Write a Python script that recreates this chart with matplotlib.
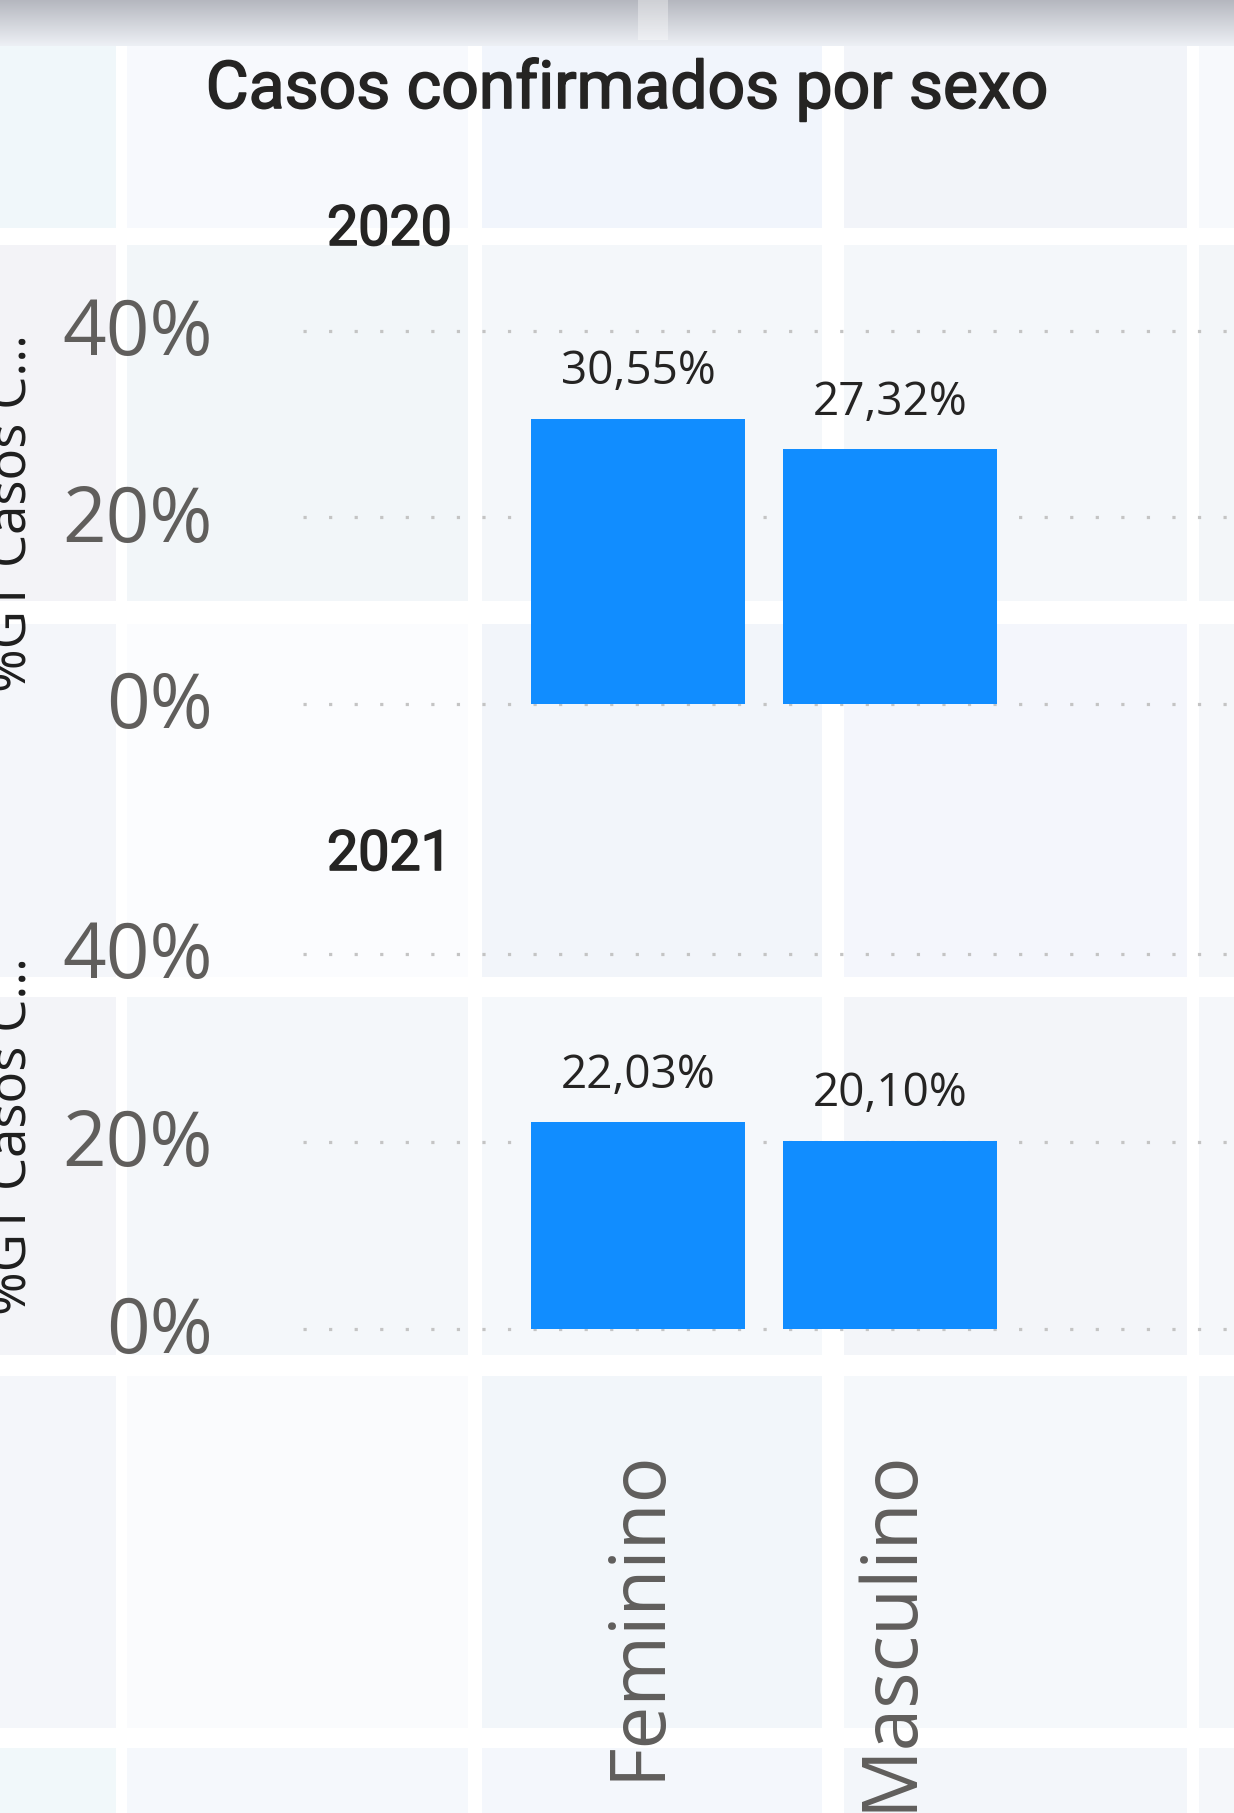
import matplotlib
matplotlib.use("Agg")
import matplotlib.pyplot as plt
import matplotlib.patheffects as pe
import numpy as np
from matplotlib.patches import Rectangle
from matplotlib.transforms import ScaledTranslation

# data
categories = ["Feminino", "Masculino"]
years = ["2020", "2021"]
pct_2020 = [0.3055, 0.2732]
pct_2021 = [0.2203, 0.2010]
values = [pct_2020, pct_2021]
y_ticks = [0.0, 0.2, 0.4]
y_tick_labels = ["0%", "20%", "40%"]
title = "Casos confirmados por sexo"
y_title = "%GT Casos C..."

W, H = 1234, 1813
BAR_COLOR = "#118DFF"
TICK_COLOR = "#605E5C"
TEXT_DARK = "#252423"

fig = plt.figure(figsize=(W / 100, H / 100), dpi=100)
fig.patch.set_facecolor("white")


def fx(px):
    return px / W


def fy(py):
    return 1 - py / H


# ---- background: pale tiles of the dashboard canvas behind the visual ----
bg = fig.add_axes([0, 0, 1, 1], zorder=-5)
bg.set_xlim(0, W)
bg.set_ylim(H, 0)
bg.axis("off")

col_edges = [(-5, 116), (127, 468), (482, 822), (844, 1187), (1199, 1240)]
row_edges = [(44, 228), (245, 601), (624, 977), (997, 1355), (1376, 1728), (1748, 1820)]
tile_colors = [
    ["#F0F7FA", "#F7F9FD", "#F1F5FC", "#F2F4F9", "#F7F9FC"],
    ["#F3F3F7", "#F2F6F9", "#F4F7FA", "#F4F7FA", "#F3F6F9"],
    ["#F4F6FA", "#FBFCFE", "#F2F5FA", "#F4F6FC", "#F5F7FA"],
    ["#F3F4F8", "#F4F7FA", "#F5F8FB", "#F3F5F9", "#F5F7FA"],
    ["#F4F6FA", "#FAFBFD", "#F2F6FA", "#F5F8FB", "#F4F7FA"],
    ["#F1F8FA", "#F5F8FC", "#F4F7FC", "#F3F6FA", "#F5F7FA"],
]
for r, (y0, y1) in enumerate(row_edges):
    for c, (x0, x1) in enumerate(col_edges):
        bg.add_patch(Rectangle((x0, y0), x1 - x0, y1 - y0,
                               facecolor=tile_colors[r][c], edgecolor="none"))

# grey blurred strip along the top
grad = np.linspace(0, 1, 60)[:, None]
top = np.array([0.71, 0.72, 0.75])
bot = np.array([0.93, 0.94, 0.96])
strip = top + (bot - top) * grad[..., None]
strip = np.repeat(strip, 10, axis=1)
bg.imshow(strip, extent=(0, W, 46, 0), aspect="auto", zorder=2)
bg.add_patch(Rectangle((638, 0), 30, 40, facecolor="white", alpha=0.35,
                       edgecolor="none", zorder=3))

# ---- panels ----
x_left_px, x_right_px = 303, W
center0_px, step_px = 638, 252
bar_width = 214 / step_px
xlim = (-(center0_px - x_left_px) / step_px,
        -(center0_px - x_left_px) / step_px + (x_right_px - x_left_px) / step_px)
ylim = (-0.006, 0.42)

panel_zero_px = [704, 1329]
panel_scale_px = [932.5, 937.5]
year_baseline_px = [245, 870]
ytitle_center_px = [513, 1136]

# thin outline to get a "medium" weight out of the regular face
medium = [pe.withStroke(linewidth=1.2, foreground=TEXT_DARK)]

x = np.arange(len(categories))
lift = ScaledTranslation(0, 3.5 / 72, fig.dpi_scale_trans)
axes = []
for i, vals in enumerate(values):
    z = panel_zero_px[i]
    s = panel_scale_px[i]
    bottom_px = z - ylim[0] * s
    top_px = z - ylim[1] * s
    ax = fig.add_axes([fx(x_left_px), fy(bottom_px),
                       fx(x_right_px - x_left_px), (bottom_px - top_px) / H])
    ax.patch.set_alpha(0)
    for sp in ax.spines.values():
        sp.set_visible(False)
    ax.set_xlim(*xlim)
    ax.set_ylim(*ylim)

    for t in y_ticks:
        ax.axhline(t, color="#C4C4C4", linewidth=2.3,
                   linestyle=(0, (1, 7)), dash_capstyle="butt", zorder=1)

    ax.bar(x, vals, width=bar_width, color=BAR_COLOR, zorder=3)
    for xi, v in zip(x, vals):
        ax.annotate(f"{v * 100:.2f}%".replace(".", ","), xy=(xi, v),
                    xytext=(0, 25), textcoords="offset points",
                    ha="center", va="baseline", fontsize=33,
                    family="Open Sans", color=TEXT_DARK, zorder=4)

    ax.set_yticks(y_ticks)
    ax.set_yticklabels(y_tick_labels, family="Open Sans", fontsize=55,
                       color=TICK_COLOR)
    ax.tick_params(axis="y", length=0, pad=65)
    for lab in ax.get_yticklabels():
        lab.set_verticalalignment("center_baseline")
        lab.set_transform(lab.get_transform() + lift)

    ax.set_xticks(x)
    if i == len(values) - 1:
        ax.set_xticklabels(categories, rotation=90, family="Open Sans",
                           fontsize=55, color=TICK_COLOR)
        ax.tick_params(axis="x", length=0, pad=82)
    else:
        ax.set_xticklabels([])
        ax.tick_params(axis="x", length=0)

    fig.text(fx(327), fy(year_baseline_px[i]), years[i], family="Roboto",
             fontweight="normal", fontsize=40, color=TEXT_DARK,
             ha="left", va="baseline", path_effects=medium)
    fig.text(fx(40), fy(ytitle_center_px[i]), y_title, family="Open Sans",
             fontsize=38, color="#1E1E1E", rotation=90,
             ha="right", va="center")
    axes.append(ax)

fig.text(fx(627), fy(108), title, family="Roboto", fontweight="normal",
         fontsize=47.5, color=TEXT_DARK, ha="center", va="baseline",
         path_effects=medium)

fig.savefig("out.png", dpi=100, facecolor="white")
